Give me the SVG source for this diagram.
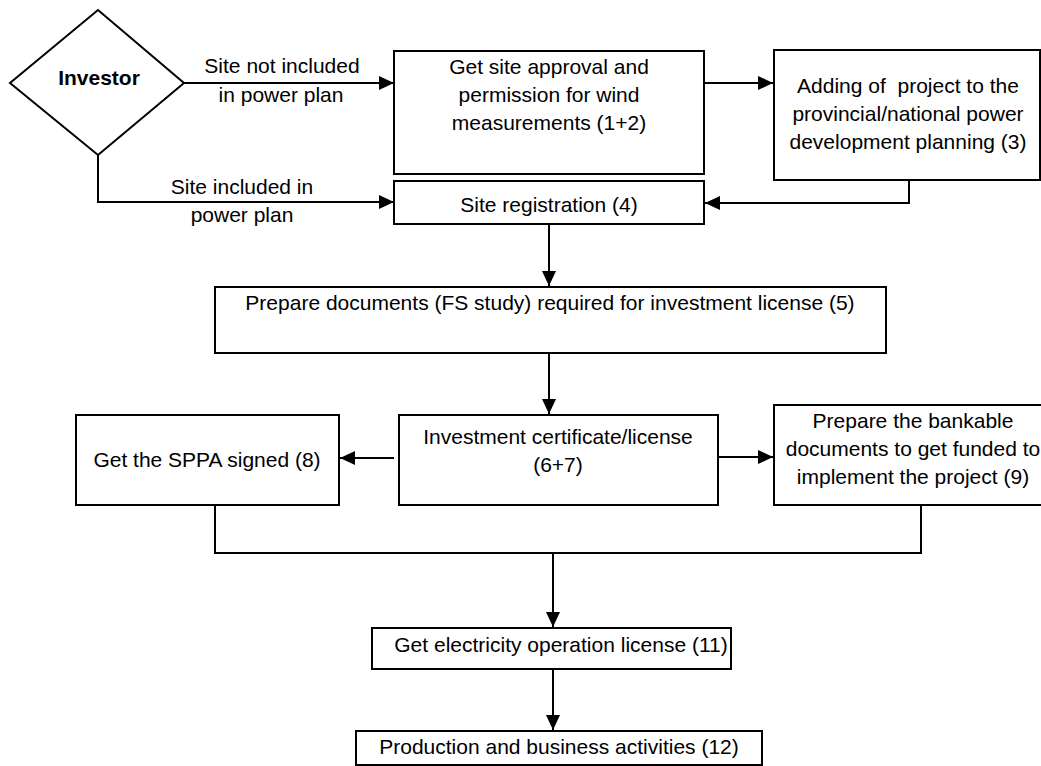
<svg xmlns="http://www.w3.org/2000/svg" width="1041" height="766" viewBox="0 0 1041 766">
<style>
.box{fill:#fff;stroke:#000;stroke-width:2}
.t{font-family:"Liberation Sans",Arial,sans-serif;font-size:21px;fill:#000;text-anchor:middle}
.b{font-weight:bold}
.c{fill:none;stroke:#000;stroke-width:2}
</style>
<defs>
<marker id="ah" markerUnits="userSpaceOnUse" markerWidth="16" markerHeight="14" refX="15" refY="7" orient="auto">
<path d="M0,0 L15,7 L0,14 z" fill="#000"/>
</marker>
</defs>
<rect width="1041" height="766" fill="#fff"/>
<g id="connectors">
<path class="c" d="M184,83 H394" marker-end="url(#ah)"/>
<path class="c" d="M98,155 V202 H394" marker-end="url(#ah)"/>
<path class="c" d="M704,83 H773" marker-end="url(#ah)"/>
<path class="c" d="M909,180 V203 H705" marker-end="url(#ah)"/>
<path class="c" d="M549,224 V286" marker-end="url(#ah)"/>
<path class="c" d="M549,353 V414" marker-end="url(#ah)"/>
<path class="c" d="M394,458 H340" marker-end="url(#ah)"/>
<path class="c" d="M718,457 H773" marker-end="url(#ah)"/>
<path class="c" d="M215,505 V553 H921 V505"/>
<path class="c" d="M553,553 V627" marker-end="url(#ah)"/>
<path class="c" d="M553,669 V730" marker-end="url(#ah)"/>
<text class="t" x="282" y="73">Site not included</text>
<text class="t" x="281" y="102">in power plan</text>
<text class="t" x="242" y="194">Site included in</text>
<text class="t" x="242" y="222">power plan</text>
</g>
<g id="investor">
<polygon class="box" points="10,83 98,10 184,83 98,155"/>
<text class="t b" x="99" y="85">Investor</text>
</g>
<g id="site-approval">
<rect class="box" x="394" y="51" width="310" height="123"/>
<text class="t" x="549" y="74">Get site approval and</text>
<text class="t" x="549" y="102">permission for wind</text>
<text class="t" x="549" y="130">measurements (1+2)</text>
</g>
<g id="adding-project">
<rect class="box" x="774" y="50" width="266" height="130"/>
<text class="t" x="908" y="93" xml:space="preserve">Adding of  project to the</text>
<text class="t" x="908" y="121">provincial/national power</text>
<text class="t" x="908" y="149">development planning (3)</text>
</g>
<g id="site-registration">
<rect class="box" x="394" y="181" width="310" height="43"/>
<text class="t" x="549" y="212">Site registration (4)</text>
</g>
<g id="prepare-documents">
<rect class="box" x="215" y="287" width="671" height="66"/>
<text class="t" x="550" y="310">Prepare documents (FS study) required for investment license (5)</text>
</g>
<g id="investment-certificate">
<rect class="box" x="399" y="415" width="319" height="90"/>
<text class="t" x="558" y="444">Investment certificate/license</text>
<text class="t" x="558" y="472">(6+7)</text>
</g>
<g id="sppa">
<rect class="box" x="76" y="415" width="263" height="90"/>
<text class="t" x="207" y="467">Get the SPPA signed (8)</text>
</g>
<g id="bankable-documents">
<rect class="box" x="774" y="405" width="280" height="100"/>
<text class="t" x="913" y="428">Prepare the bankable</text>
<text class="t" x="913" y="456">documents to get funded to</text>
<text class="t" x="913" y="484">implement the project (9)</text>
</g>
<g id="operation-license">
<rect class="box" x="372" y="628" width="359" height="41"/>
<text class="t" x="561" y="652">Get electricity operation license (11)</text>
</g>
<g id="production">
<rect class="box" x="356" y="731" width="406" height="34"/>
<text class="t" x="559" y="754">Production and business activities (12)</text>
</g>
</svg>
